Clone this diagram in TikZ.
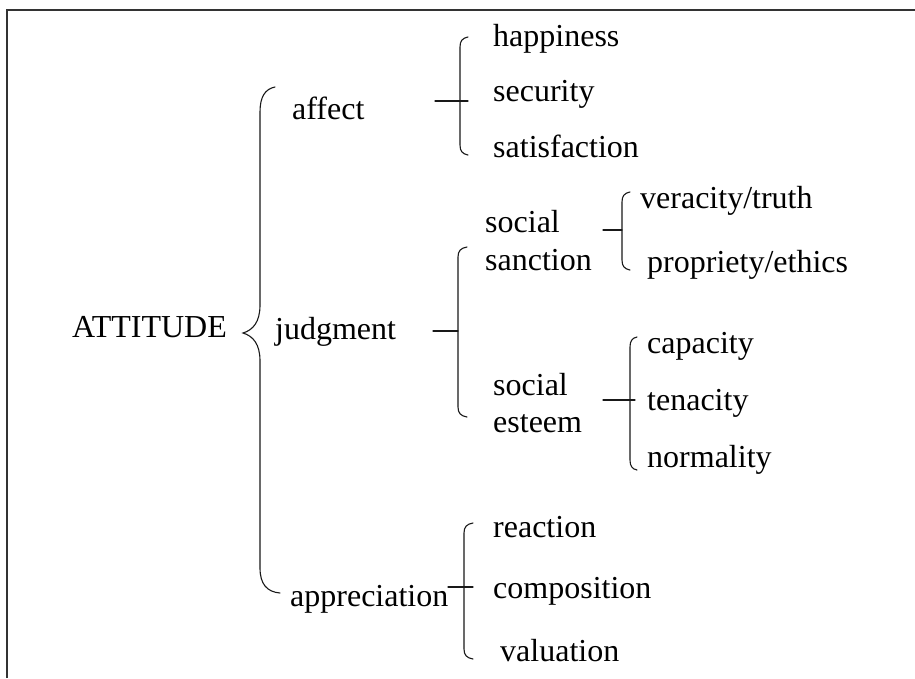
\documentclass[tikz,border=0pt]{standalone}
\usepackage{fontspec}
\setmainfont{Liberation Serif}

% vertical bar with curled ends: x, top, bottom, curl length
\newcommand\curlybar[4]{%
  \draw[brk] ({#1+#4},#2) .. controls ({#1+0.3*#4},{#2+1}) and (#1,{#2+4}) .. (#1,{#2+10})
    -- (#1,{#3-10}) .. controls (#1,{#3-4}) and ({#1+0.3*#4},{#3-1}) .. ({#1+#4},#3);}

\begin{document}
\begin{tikzpicture}[x=1pt,y=-1pt,
  lbl/.style={inner sep=0pt, anchor=base west, font=\fontsize{32}{38}\selectfont},
  brk/.style={line width=1.1pt, line cap=round, draw=black!90},
  frame/.style={line width=2.4pt, draw=black!80}]
\useasboundingbox (0,0) rectangle (915,678);

% open frame: left and top edges only
\draw[frame] (7,678) -- (7,10) -- (915,10);

% labels
\node[lbl] (att) at (72,337) {ATTITUDE};
\node[lbl] (aff) at (292,119) {affect};
\node[lbl] (jud) at (275,339) {judgment};
\node[lbl] (app) at (290,606) {appreciation};

\node[lbl] (hap) at (493,46) {happiness};
\node[lbl] (sec) at (493,101) {security};
\node[lbl] (sat) at (493,157) {satisfaction};

\node[lbl] (ssa) at (485,232) {social};
\node[lbl] (ssb) at (485,270) {sanction};
\node[lbl] (ver) at (640,208) {veracity/truth};
\node[lbl] (pro) at (647,272) {propriety/ethics};

\node[lbl] (sea) at (493,395) {social};
\node[lbl] (seb) at (493,432) {esteem};
\node[lbl] (cap) at (647,353) {capacity};
\node[lbl] (ten) at (647,410) {tenacity};
\node[lbl] (nor) at (647,467) {normality};

\node[lbl] (rea) at (493,537) {reaction};
\node[lbl] (com) at (493,598) {composition};
\node[lbl] (val) at (500,661) {valuation};

% main brace
\draw[brk] (275,87) .. controls (265,89) and (260,97) .. (260,112)
  -- (260,305) .. controls (260,322) and (253,330) .. (243,333)
  .. controls (253,336) and (260,344) .. (260,361)
  -- (260,568) .. controls (260,584) and (267,592) .. (280,593);

% affect
\curlybar{460}{37}{155}{8}
\coordinate (affs) at (435,101); \coordinate (affe) at (468,101);
\draw[brk] (affs) -- (affe);

% judgment
\curlybar{458}{247}{417}{9}
\coordinate (juds) at (433,331); \coordinate (jude) at (458,331);
\draw[brk] (juds) -- (jude);

% social sanction
\curlybar{622}{192}{270}{8}
\coordinate (sans) at (603,230); \coordinate (sane) at (622,230);
\draw[brk] (sans) -- (sane);

% social esteem
\curlybar{630}{337}{470}{7}
\coordinate (ests) at (603,400); \coordinate (este) at (635,400);
\draw[brk] (ests) -- (este);

% appreciation
\curlybar{464}{523}{659}{9}
\coordinate (apps) at (448,587); \coordinate (appe) at (473,587);
\draw[brk] (apps) -- (appe);
\end{tikzpicture}
\end{document}
